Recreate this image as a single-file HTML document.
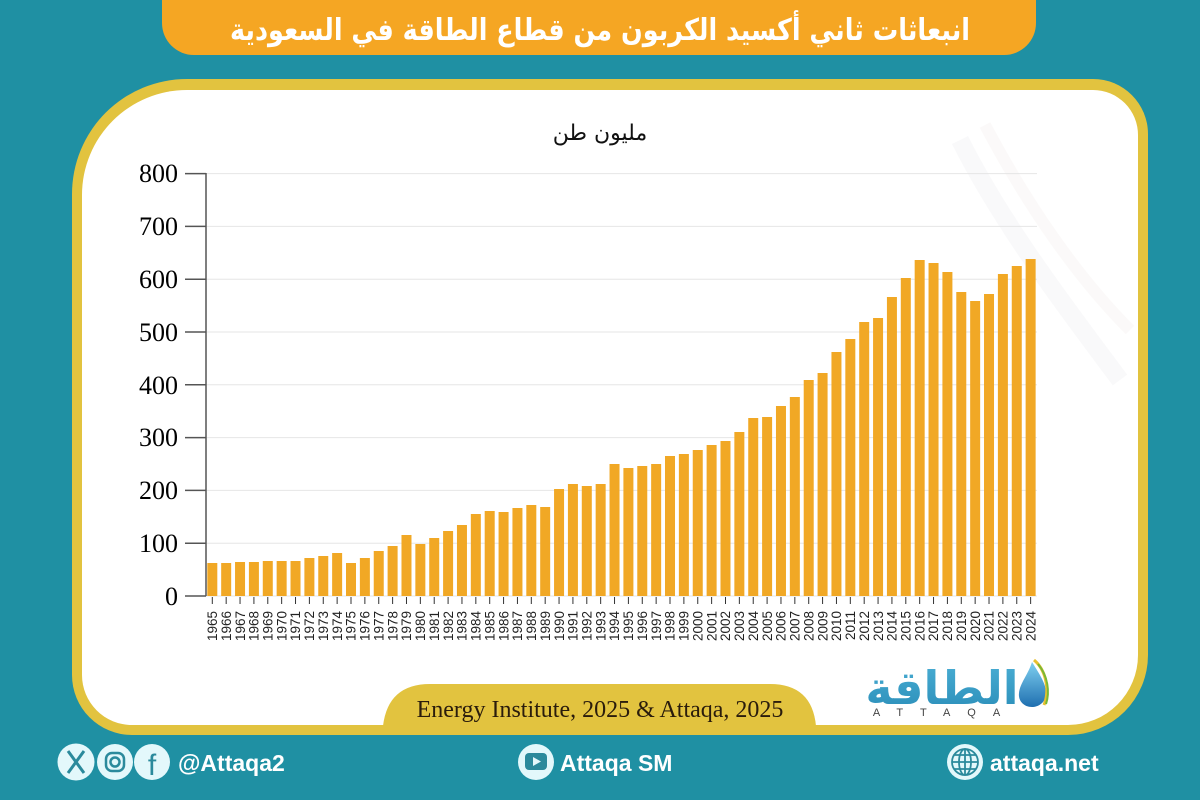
<!DOCTYPE html>
<html><head><meta charset="utf-8"><style>
html,body{margin:0;padding:0;background:#1f90a3;}
svg{display:block;}
</style></head><body>
<svg width="1200" height="800" viewBox="0 0 1200 800" xmlns="http://www.w3.org/2000/svg">
<defs>
<linearGradient id="lg" x1="0" y1="0" x2="0" y2="1"><stop offset="0" stop-color="#4aaed4"/><stop offset="1" stop-color="#2a8db8"/></linearGradient>
<linearGradient id="dg" x1="0" y1="0" x2="0" y2="1"><stop offset="0" stop-color="#7fd0f0"/><stop offset="1" stop-color="#1f6fb0"/></linearGradient>
</defs>
<rect width="1200" height="800" fill="#1f90a3"/>
<!-- title banner -->
<rect x="162" y="-40" width="874" height="95" rx="32" fill="#f5a623"/>
<text x="600" y="40" text-anchor="middle" textLength="740" lengthAdjust="spacingAndGlyphs" font-family="DejaVu Sans, sans-serif" font-weight="bold" font-size="30" fill="#ffffff">انبعاثات ثاني أكسيد الكربون من قطاع الطاقة في السعودية</text>
<!-- card -->
<path d="M72,194 A115,115 0 0 1 187,79 L1093,79 A55,55 0 0 1 1148,134 L1148,655 A80,80 0 0 1 1068,735 L132,735 A60,60 0 0 1 72,675 Z" fill="#e2c33f"/>
<path d="M82,195 A105,105 0 0 1 187,90 L1093,90 A45,45 0 0 1 1138,135 L1138,655 A70,70 0 0 1 1068,725 L132,725 A50,50 0 0 1 82,675 Z" fill="#ffffff"/>
<!-- faint watermark -->
<g opacity="0.35">
<path d="M960,140 C1000,220 1060,300 1120,380" stroke="#eeeef2" stroke-width="18" fill="none"/>
<path d="M985,125 C1030,210 1080,280 1130,330" stroke="#f6f0ee" stroke-width="12" fill="none"/>
</g>
<!-- y axis label -->
<text x="600" y="140" text-anchor="middle" font-family="DejaVu Sans, sans-serif" font-size="22" fill="#111">مليون طن</text>
<!-- grid -->
<g stroke="#e6e6e6" stroke-width="1">
<line x1="206" x2="1037" y1="543.2" y2="543.2"/>
<line x1="206" x2="1037" y1="490.4" y2="490.4"/>
<line x1="206" x2="1037" y1="437.6" y2="437.6"/>
<line x1="206" x2="1037" y1="384.8" y2="384.8"/>
<line x1="206" x2="1037" y1="332" y2="332"/>
<line x1="206" x2="1037" y1="279.2" y2="279.2"/>
<line x1="206" x2="1037" y1="226.4" y2="226.4"/>
<line x1="206" x2="1037" y1="173.6" y2="173.6"/>
<line x1="206" x2="1037" y1="596" y2="596"/>
</g>
<!-- y axis -->
<g stroke="#555" stroke-width="1.5">
<line x1="206" x2="206" y1="173" y2="596"/>
<line x1="185" x2="206" y1="596" y2="596"/>
<line x1="185" x2="206" y1="543.2" y2="543.2"/>
<line x1="185" x2="206" y1="490.4" y2="490.4"/>
<line x1="185" x2="206" y1="437.6" y2="437.6"/>
<line x1="185" x2="206" y1="384.8" y2="384.8"/>
<line x1="185" x2="206" y1="332" y2="332"/>
<line x1="185" x2="206" y1="279.2" y2="279.2"/>
<line x1="185" x2="206" y1="226.4" y2="226.4"/>
<line x1="185" x2="206" y1="173.6" y2="173.6"/>
</g>
<g font-family="Liberation Serif, serif" font-size="26" fill="#000" text-anchor="end">
<text x="178" y="605">0</text>
<text x="178" y="552">100</text>
<text x="178" y="499">200</text>
<text x="178" y="446">300</text>
<text x="178" y="394">400</text>
<text x="178" y="341">500</text>
<text x="178" y="288">600</text>
<text x="178" y="235">700</text>
<text x="178" y="182">800</text>
</g>
<!-- bars -->
<g fill="#f1a825">
<rect x="207.3" y="563" width="10" height="33"/>
<rect x="221.17" y="563" width="10" height="33"/>
<rect x="235.04" y="562" width="10" height="34"/>
<rect x="248.91" y="562" width="10" height="34"/>
<rect x="262.78" y="561" width="10" height="35"/>
<rect x="276.65" y="561" width="10" height="35"/>
<rect x="290.52" y="561" width="10" height="35"/>
<rect x="304.39" y="558" width="10" height="38"/>
<rect x="318.26" y="556" width="10" height="40"/>
<rect x="332.13" y="553" width="10" height="43"/>
<rect x="346.0" y="563" width="10" height="33"/>
<rect x="359.87" y="558" width="10" height="38"/>
<rect x="373.74" y="551" width="10" height="45"/>
<rect x="387.61" y="546" width="10" height="50"/>
<rect x="401.48" y="535" width="10" height="61"/>
<rect x="415.35" y="544" width="10" height="52"/>
<rect x="429.22" y="538" width="10" height="58"/>
<rect x="443.09" y="531" width="10" height="65"/>
<rect x="456.96" y="525" width="10" height="71"/>
<rect x="470.83" y="514" width="10" height="82"/>
<rect x="484.7" y="511" width="10" height="85"/>
<rect x="498.57" y="512" width="10" height="84"/>
<rect x="512.44" y="508" width="10" height="88"/>
<rect x="526.31" y="505" width="10" height="91"/>
<rect x="540.18" y="507" width="10" height="89"/>
<rect x="554.05" y="489" width="10" height="107"/>
<rect x="567.92" y="484" width="10" height="112"/>
<rect x="581.79" y="486" width="10" height="110"/>
<rect x="595.66" y="484" width="10" height="112"/>
<rect x="609.53" y="464" width="10" height="132"/>
<rect x="623.4" y="468" width="10" height="128"/>
<rect x="637.27" y="466" width="10" height="130"/>
<rect x="651.14" y="464" width="10" height="132"/>
<rect x="665.01" y="456" width="10" height="140"/>
<rect x="678.88" y="454" width="10" height="142"/>
<rect x="692.75" y="450" width="10" height="146"/>
<rect x="706.62" y="445" width="10" height="151"/>
<rect x="720.49" y="441" width="10" height="155"/>
<rect x="734.36" y="432" width="10" height="164"/>
<rect x="748.23" y="418" width="10" height="178"/>
<rect x="762.1" y="417" width="10" height="179"/>
<rect x="775.97" y="406" width="10" height="190"/>
<rect x="789.84" y="397" width="10" height="199"/>
<rect x="803.71" y="380" width="10" height="216"/>
<rect x="817.58" y="373" width="10" height="223"/>
<rect x="831.45" y="352" width="10" height="244"/>
<rect x="845.32" y="339" width="10" height="257"/>
<rect x="859.19" y="322" width="10" height="274"/>
<rect x="873.06" y="318" width="10" height="278"/>
<rect x="886.93" y="297" width="10" height="299"/>
<rect x="900.8" y="278" width="10" height="318"/>
<rect x="914.67" y="260" width="10" height="336"/>
<rect x="928.54" y="263" width="10" height="333"/>
<rect x="942.41" y="272" width="10" height="324"/>
<rect x="956.28" y="292" width="10" height="304"/>
<rect x="970.15" y="301" width="10" height="295"/>
<rect x="984.02" y="294" width="10" height="302"/>
<rect x="997.89" y="274" width="10" height="322"/>
<rect x="1011.76" y="266" width="10" height="330"/>
<rect x="1025.63" y="259" width="10" height="337"/>
</g>
<!-- x ticks -->
<g stroke="#333" stroke-width="1">
<line x1="212.3" x2="212.3" y1="597" y2="604"/><line x1="226.17" x2="226.17" y1="597" y2="604"/><line x1="240.04" x2="240.04" y1="597" y2="604"/><line x1="253.91" x2="253.91" y1="597" y2="604"/><line x1="267.78" x2="267.78" y1="597" y2="604"/><line x1="281.65" x2="281.65" y1="597" y2="604"/><line x1="295.52" x2="295.52" y1="597" y2="604"/><line x1="309.39" x2="309.39" y1="597" y2="604"/><line x1="323.26" x2="323.26" y1="597" y2="604"/><line x1="337.13" x2="337.13" y1="597" y2="604"/>
<line x1="351.0" x2="351.0" y1="597" y2="604"/><line x1="364.87" x2="364.87" y1="597" y2="604"/><line x1="378.74" x2="378.74" y1="597" y2="604"/><line x1="392.61" x2="392.61" y1="597" y2="604"/><line x1="406.48" x2="406.48" y1="597" y2="604"/><line x1="420.35" x2="420.35" y1="597" y2="604"/><line x1="434.22" x2="434.22" y1="597" y2="604"/><line x1="448.09" x2="448.09" y1="597" y2="604"/><line x1="461.96" x2="461.96" y1="597" y2="604"/><line x1="475.83" x2="475.83" y1="597" y2="604"/>
<line x1="489.7" x2="489.7" y1="597" y2="604"/><line x1="503.57" x2="503.57" y1="597" y2="604"/><line x1="517.44" x2="517.44" y1="597" y2="604"/><line x1="531.31" x2="531.31" y1="597" y2="604"/><line x1="545.18" x2="545.18" y1="597" y2="604"/><line x1="559.05" x2="559.05" y1="597" y2="604"/><line x1="572.92" x2="572.92" y1="597" y2="604"/><line x1="586.79" x2="586.79" y1="597" y2="604"/><line x1="600.66" x2="600.66" y1="597" y2="604"/><line x1="614.53" x2="614.53" y1="597" y2="604"/>
<line x1="628.4" x2="628.4" y1="597" y2="604"/><line x1="642.27" x2="642.27" y1="597" y2="604"/><line x1="656.14" x2="656.14" y1="597" y2="604"/><line x1="670.01" x2="670.01" y1="597" y2="604"/><line x1="683.88" x2="683.88" y1="597" y2="604"/><line x1="697.75" x2="697.75" y1="597" y2="604"/><line x1="711.62" x2="711.62" y1="597" y2="604"/><line x1="725.49" x2="725.49" y1="597" y2="604"/><line x1="739.36" x2="739.36" y1="597" y2="604"/><line x1="753.23" x2="753.23" y1="597" y2="604"/>
<line x1="767.1" x2="767.1" y1="597" y2="604"/><line x1="780.97" x2="780.97" y1="597" y2="604"/><line x1="794.84" x2="794.84" y1="597" y2="604"/><line x1="808.71" x2="808.71" y1="597" y2="604"/><line x1="822.58" x2="822.58" y1="597" y2="604"/><line x1="836.45" x2="836.45" y1="597" y2="604"/><line x1="850.32" x2="850.32" y1="597" y2="604"/><line x1="864.19" x2="864.19" y1="597" y2="604"/><line x1="878.06" x2="878.06" y1="597" y2="604"/><line x1="891.93" x2="891.93" y1="597" y2="604"/>
<line x1="905.8" x2="905.8" y1="597" y2="604"/><line x1="919.67" x2="919.67" y1="597" y2="604"/><line x1="933.54" x2="933.54" y1="597" y2="604"/><line x1="947.41" x2="947.41" y1="597" y2="604"/><line x1="961.28" x2="961.28" y1="597" y2="604"/><line x1="975.15" x2="975.15" y1="597" y2="604"/><line x1="989.02" x2="989.02" y1="597" y2="604"/><line x1="1002.89" x2="1002.89" y1="597" y2="604"/><line x1="1016.76" x2="1016.76" y1="597" y2="604"/><line x1="1030.63" x2="1030.63" y1="597" y2="604"/>
</g>
<!-- x labels -->
<g font-family="Liberation Sans, sans-serif" font-size="13.5" fill="#222" text-anchor="end">
<text transform="translate(217,611) rotate(-90)">1965</text>
<text transform="translate(230.9,611) rotate(-90)">1966</text>
<text transform="translate(244.8,611) rotate(-90)">1967</text>
<text transform="translate(258.6,611) rotate(-90)">1968</text>
<text transform="translate(272.5,611) rotate(-90)">1969</text>
<text transform="translate(286.4,611) rotate(-90)">1970</text>
<text transform="translate(300.2,611) rotate(-90)">1971</text>
<text transform="translate(314.1,611) rotate(-90)">1972</text>
<text transform="translate(328,611) rotate(-90)">1973</text>
<text transform="translate(341.8,611) rotate(-90)">1974</text>
<text transform="translate(355.7,611) rotate(-90)">1975</text>
<text transform="translate(369.6,611) rotate(-90)">1976</text>
<text transform="translate(383.4,611) rotate(-90)">1977</text>
<text transform="translate(397.3,611) rotate(-90)">1978</text>
<text transform="translate(411.2,611) rotate(-90)">1979</text>
<text transform="translate(425,611) rotate(-90)">1980</text>
<text transform="translate(438.9,611) rotate(-90)">1981</text>
<text transform="translate(452.8,611) rotate(-90)">1982</text>
<text transform="translate(466.7,611) rotate(-90)">1983</text>
<text transform="translate(480.5,611) rotate(-90)">1984</text>
<text transform="translate(494.4,611) rotate(-90)">1985</text>
<text transform="translate(508.3,611) rotate(-90)">1986</text>
<text transform="translate(522.1,611) rotate(-90)">1987</text>
<text transform="translate(536,611) rotate(-90)">1988</text>
<text transform="translate(549.9,611) rotate(-90)">1989</text>
<text transform="translate(563.8,611) rotate(-90)">1990</text>
<text transform="translate(577.6,611) rotate(-90)">1991</text>
<text transform="translate(591.5,611) rotate(-90)">1992</text>
<text transform="translate(605.4,611) rotate(-90)">1993</text>
<text transform="translate(619.2,611) rotate(-90)">1994</text>
<text transform="translate(633.1,611) rotate(-90)">1995</text>
<text transform="translate(647,611) rotate(-90)">1996</text>
<text transform="translate(660.8,611) rotate(-90)">1997</text>
<text transform="translate(674.7,611) rotate(-90)">1998</text>
<text transform="translate(688.6,611) rotate(-90)">1999</text>
<text transform="translate(702.5,611) rotate(-90)">2000</text>
<text transform="translate(716.3,611) rotate(-90)">2001</text>
<text transform="translate(730.2,611) rotate(-90)">2002</text>
<text transform="translate(744.1,611) rotate(-90)">2003</text>
<text transform="translate(757.9,611) rotate(-90)">2004</text>
<text transform="translate(771.8,611) rotate(-90)">2005</text>
<text transform="translate(785.7,611) rotate(-90)">2006</text>
<text transform="translate(799.5,611) rotate(-90)">2007</text>
<text transform="translate(813.4,611) rotate(-90)">2008</text>
<text transform="translate(827.3,611) rotate(-90)">2009</text>
<text transform="translate(841.2,611) rotate(-90)">2010</text>
<text transform="translate(855,611) rotate(-90)">2011</text>
<text transform="translate(868.9,611) rotate(-90)">2012</text>
<text transform="translate(882.8,611) rotate(-90)">2013</text>
<text transform="translate(896.6,611) rotate(-90)">2014</text>
<text transform="translate(910.5,611) rotate(-90)">2015</text>
<text transform="translate(924.4,611) rotate(-90)">2016</text>
<text transform="translate(938.2,611) rotate(-90)">2017</text>
<text transform="translate(952.1,611) rotate(-90)">2018</text>
<text transform="translate(966,611) rotate(-90)">2019</text>
<text transform="translate(979.9,611) rotate(-90)">2020</text>
<text transform="translate(993.7,611) rotate(-90)">2021</text>
<text transform="translate(1007.6,611) rotate(-90)">2022</text>
<text transform="translate(1021.5,611) rotate(-90)">2023</text>
<text transform="translate(1035.3,611) rotate(-90)">2024</text>
</g>
<!-- source pill -->
<path d="M383,735 L383,726 Q388,684 430,684 L770,684 Q812,684 816,726 L816,735 Z" fill="#e2c33f"/>
<text x="600" y="717" text-anchor="middle" font-family="Liberation Serif, serif" font-size="24" fill="#2a1c0c">Energy Institute, 2025 &amp; Attaqa, 2025</text>
<!-- logo -->
<text x="942" y="704" text-anchor="middle" font-family="DejaVu Sans, sans-serif" font-weight="bold" font-size="46" fill="url(#lg)">الطاقة</text>
<text x="945" y="716" text-anchor="middle" font-family="Liberation Sans, sans-serif" font-size="11" letter-spacing="17" fill="#444">ATTAQA</text>
<path d="M1032,662 C1040,675 1047,685 1046,695 C1045,703 1038,707 1032,707 C1024,707 1018,701 1019,693 C1020,683 1028,675 1032,662 Z" fill="url(#dg)"/>
<path d="M1034,660 C1046,670 1050,690 1044,705" stroke="#e8c030" stroke-width="3" fill="none"/>
<path d="M1038,664 C1048,676 1050,692 1046,704" stroke="#7ab834" stroke-width="2" fill="none"/>
<!-- footer left icons -->
<g>
<circle cx="76" cy="762" r="18.5" fill="#e3f8fb"/>
<circle cx="115" cy="762" r="18" fill="#e3f8fb"/>
<circle cx="152" cy="762" r="18" fill="#e3f8fb"/>
<path d="M68,751 L84,773 M84,751 L68,773" stroke="#2b8a9c" stroke-width="3"/>
<rect x="106" y="753" width="18" height="18" rx="6" fill="none" stroke="#2b8a9c" stroke-width="2.5"/>
<circle cx="115" cy="762" r="4.5" fill="none" stroke="#2b8a9c" stroke-width="2.5"/>
<text x="152" y="775" text-anchor="middle" font-family="Liberation Sans, sans-serif" font-size="30" fill="#2b8a9c">f</text>
</g>
<text x="178" y="771" font-family="Liberation Sans, sans-serif" font-weight="bold" font-size="23" fill="#ffffff">@Attaqa2</text>
<!-- youtube -->
<circle cx="536" cy="762" r="18" fill="#e3f8fb"/>
<rect x="525" y="753" width="22" height="17" rx="4" fill="#2b8a9c"/>
<path d="M533,757 L541,761.5 L533,766 Z" fill="#e3f8fb"/>
<text x="560" y="771" font-family="Liberation Sans, sans-serif" font-weight="bold" font-size="23" fill="#ffffff">Attaqa SM</text>
<!-- globe -->
<circle cx="965" cy="762" r="18" fill="#e3f8fb"/>
<g fill="none" stroke="#2b8a9c" stroke-width="1.8">
<circle cx="965" cy="762" r="13"/>
<ellipse cx="965" cy="762" rx="6" ry="13"/>
<line x1="965" y1="749" x2="965" y2="775"/>
<line x1="952" y1="762" x2="978" y2="762"/>
<line x1="954" y1="755" x2="976" y2="755"/>
<line x1="954" y1="769" x2="976" y2="769"/>
</g>
<text x="990" y="771" font-family="Liberation Sans, sans-serif" font-weight="bold" font-size="23" fill="#ffffff">attaqa.net</text>
</svg>
</body></html>
